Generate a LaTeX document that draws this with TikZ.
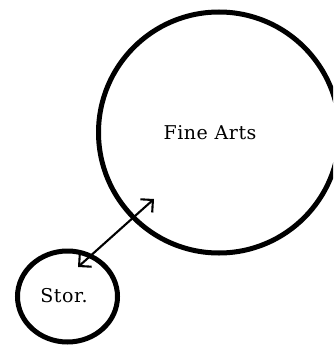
\documentclass[tikz,border=0pt]{standalone}
\usepackage{fontspec}
\setmainfont{DejaVu Serif}[LetterSpace=3]
\usetikzlibrary{arrows.meta,shapes.geometric}
\tikzset{
  room/.style={draw=black, line width=5pt, inner sep=0pt},
  lbl/.style={font=\fontsize{19}{22}\selectfont, inner sep=0pt},
  link/.style={line width=2.1pt, {Straight Barb[angle=90:12.5pt, line width=2.1pt]}-{Straight Barb[angle=90:12.5pt, line width=2.1pt]}}
}
\begin{document}
\begin{tikzpicture}[x=1pt,y=-1pt]
\useasboundingbox (0,0) rectangle (333,348);
\begin{scope}
\clip (0,0) rectangle (333,348);
\node[room, circle, minimum size=241pt] (fa) at (219,132.5) {};
\node[room, ellipse, minimum width=100pt, minimum height=91pt] (st) at (67.5,296.5) {};
\node[lbl] (falbl) at (210,133) {Fine Arts};
\node[lbl] (stlbl) at (64,296) {Stor.};
\coordinate (tipA) at (78,267);
\coordinate (tipB) at (154,199);
\draw[link] (tipA) -- (tipB);
\end{scope}
\end{tikzpicture}
\end{document}
